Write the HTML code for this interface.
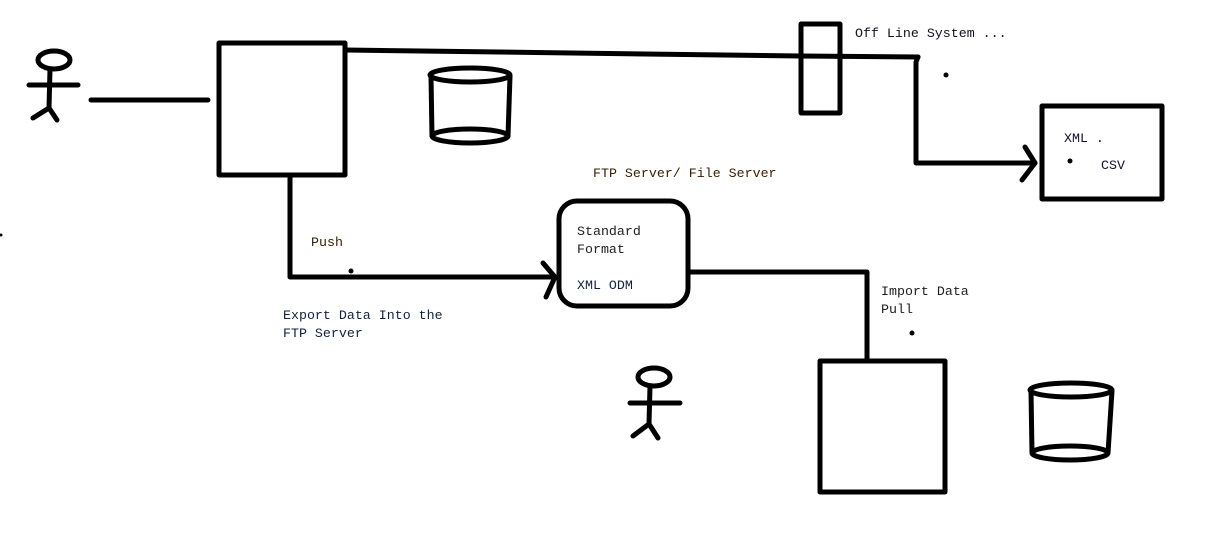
<!DOCTYPE html>
<html><head><meta charset="utf-8"><style>
html,body{margin:0;padding:0;background:#fff;}
svg{display:block}
text{font-family:"Liberation Mono",monospace;font-size:13.3px;}
</style></head><body>
<svg width="1226" height="535" viewBox="0 0 1226 535" xmlns="http://www.w3.org/2000/svg">
<g fill="none" stroke="#000" stroke-width="5" stroke-linecap="round" stroke-linejoin="round">
<!-- actor 1 -->
<ellipse cx="54" cy="60" rx="16" ry="9"/>
<line x1="50" y1="69" x2="49" y2="108"/>
<line x1="29" y1="85" x2="78" y2="85"/>
<polyline points="33,118 49,108 57,120"/>
<line x1="91" y1="100" x2="208" y2="100"/>
<!-- box 1 -->
<rect x="219" y="43" width="126" height="132" stroke-linecap="square"/>
<!-- top line -->
<polyline points="345,50 800,56 918,57"/>
<rect x="801" y="24" width="39" height="89"/>
<polyline points="918,57 916,62 916,163 1035,163"/>
<polyline points="1025,147 1035,163 1022,180"/>
<rect x="1042" y="106" width="120" height="93"/>
<!-- cylinder 1 -->
<ellipse cx="470" cy="75" rx="40" ry="7"/>
<ellipse cx="470" cy="136" rx="38" ry="7"/>
<line x1="431" y1="76" x2="432" y2="136"/>
<line x1="510" y1="76" x2="508" y2="136"/>
<!-- push line -->
<polyline points="290,175 290,277 555,277"/>
<polyline points="543,263 555,277 546,297"/>
<rect x="559" y="201" width="129" height="105" rx="18"/>
<polyline points="688,272 867,272 867,358"/>
<rect x="820" y="361" width="125" height="131"/>
<!-- cylinder 2 -->
<ellipse cx="1071" cy="390" rx="41" ry="7"/>
<ellipse cx="1070" cy="453" rx="38" ry="7"/>
<line x1="1031" y1="391" x2="1032" y2="453"/>
<line x1="1112" y1="391" x2="1108" y2="453"/>
<!-- actor 2 -->
<ellipse cx="654" cy="377" rx="16" ry="9"/>
<line x1="650" y1="386" x2="649" y2="424"/>
<line x1="630" y1="403" x2="680" y2="403"/>
<polyline points="633,436 649,424 658,438"/>
</g>
<g fill="#000">
<circle cx="351" cy="271" r="2.5"/>
<circle cx="946" cy="75" r="2.5"/>
<circle cx="912" cy="333" r="2.5"/>
<circle cx="1070" cy="161" r="2.5"/>
<circle cx="1" cy="235" r="1.5"/>
</g>
<text x="855" y="37" fill="#101020">Off Line System ...</text>
<text x="593" y="177" fill="#3a2000">FTP Server/ File Server</text>
<text x="311" y="246" fill="#3a2000">Push</text>
<text x="283" y="319" fill="#102040">Export Data Into the</text>
<text x="283" y="337" fill="#102040">FTP Server</text>
<text x="577" y="235" fill="#202020">Standard</text>
<text x="577" y="253" fill="#202020">Format</text>
<text x="577" y="289" fill="#102040">XML ODM</text>
<text x="1064" y="142" fill="#101030">XML .</text>
<text x="1101" y="169" fill="#101030">CSV</text>
<text x="881" y="295" fill="#202020">Import Data</text>
<text x="881" y="313" fill="#202020">Pull</text>
</svg>
</body></html>
